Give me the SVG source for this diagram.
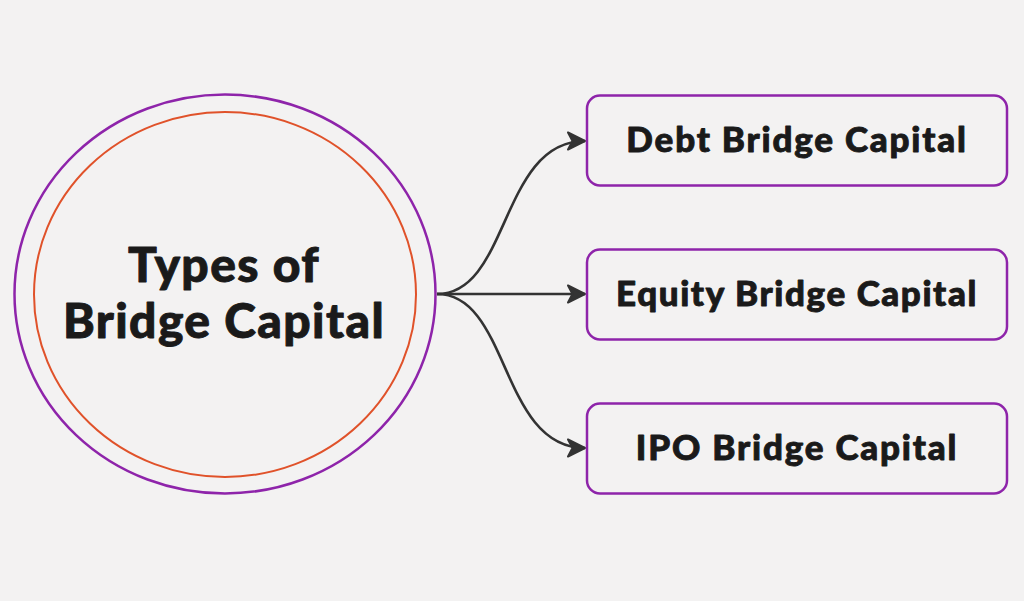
<svg xmlns="http://www.w3.org/2000/svg" width="1024" height="601" viewBox="0 0 1024 601">
<style>
.bg{fill:#f3f2f2}
.box{fill:#f3f2f2;stroke:#8e24aa;stroke-width:2.5}
.lbl{font-family:Lato,"Noto Sans",sans-serif;font-weight:900;fill:#1a1a1a;stroke:#1a1a1a;stroke-width:0.9;stroke-linejoin:round;text-anchor:middle}
.conn{fill:none;stroke:#333;stroke-width:2.6}
</style>
<defs>
<marker id="ah" viewBox="0 0 22 22" refX="20" refY="11" markerWidth="22" markerHeight="22" markerUnits="userSpaceOnUse" orient="auto">
<path d="M3,2.5 L20,11 L3,19.5 L7.5,11 Z" fill="#333" stroke="#333" stroke-width="2" stroke-linejoin="round"/>
</marker>
</defs>
<rect class="bg" width="1024" height="601"/>
<g id="center">
<ellipse cx="225" cy="294" rx="210.5" ry="199.5" fill="none" stroke="#8e24aa" stroke-width="2.5"/>
<ellipse cx="225" cy="294.5" rx="191" ry="182.5" fill="none" stroke="#e0522a" stroke-width="2"/>
<text class="lbl" x="224" y="282" font-size="48" letter-spacing="1.4">Types of</text>
<text class="lbl" x="224" y="338" font-size="48" letter-spacing="1.4">Bridge Capital</text>
</g>
<g id="connectors">
<path class="conn" d="M437,294 C510,294 500,141 585,141" marker-end="url(#ah)"/>
<path class="conn" d="M437,294 L585,294" marker-end="url(#ah)"/>
<path class="conn" d="M437,294 C510,294 500,448 585,448" marker-end="url(#ah)"/>
</g>
<g id="debt">
<rect class="box" x="587" y="95.5" width="420" height="90" rx="13"/>
<text class="lbl" x="797" y="152" font-size="35" letter-spacing="1.8">Debt Bridge Capital</text>
</g>
<g id="equity">
<rect class="box" x="587" y="249.5" width="420" height="90" rx="13"/>
<text class="lbl" x="797" y="306" font-size="35" letter-spacing="1.6">Equity Bridge Capital</text>
</g>
<g id="ipo">
<rect class="box" x="587" y="403.5" width="420" height="90" rx="13"/>
<text class="lbl" x="797" y="460" font-size="35" letter-spacing="1.8">IPO Bridge Capital</text>
</g>
</svg>
